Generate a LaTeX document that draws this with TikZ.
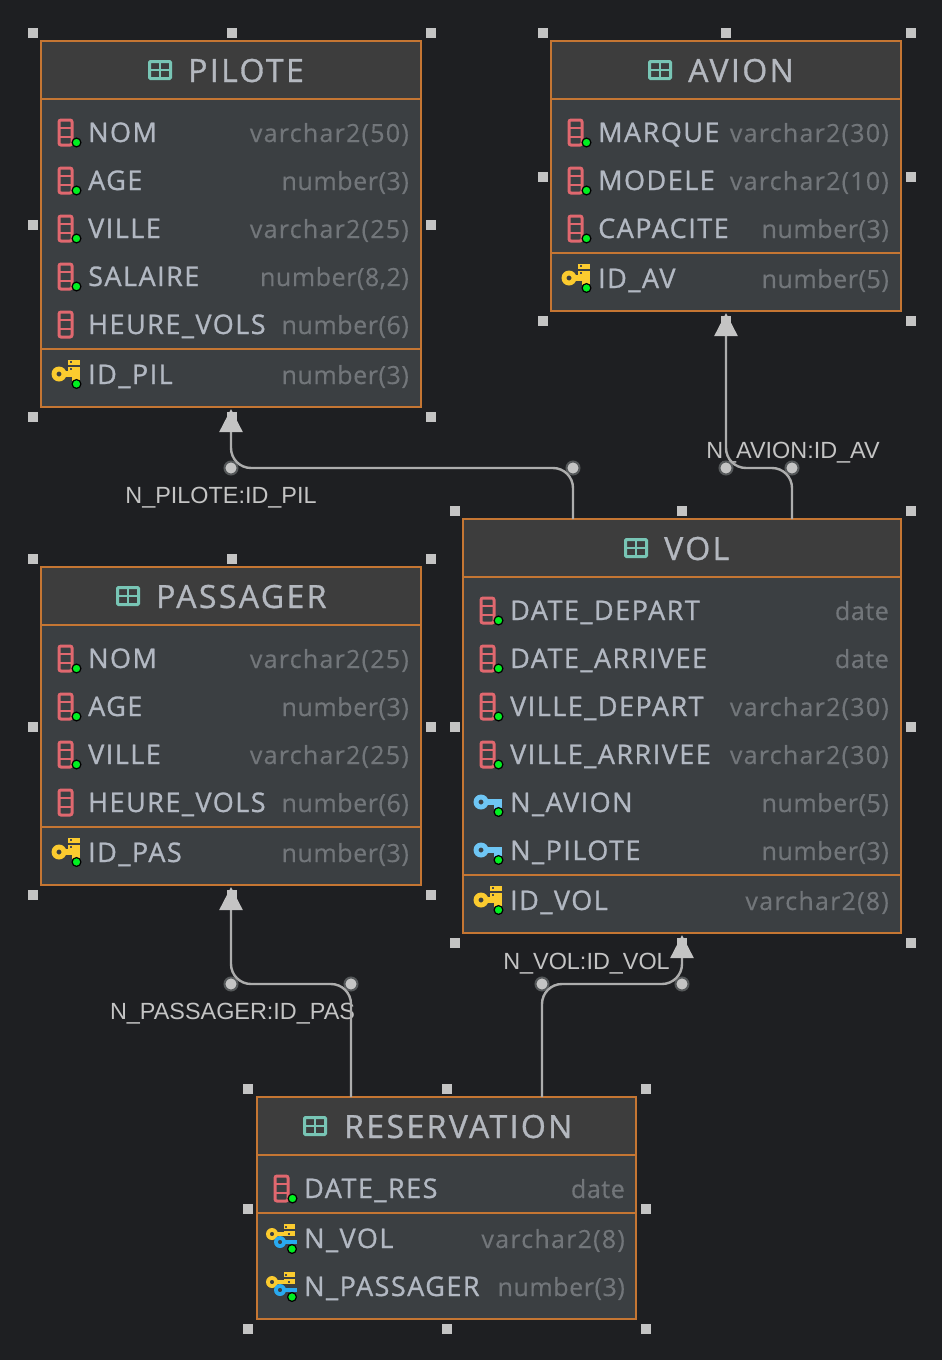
\documentclass[tikz,border=0pt]{standalone}
\usepackage{fontspec}
\setmainfont{Open Sans}
\newfontfamily\rowfont[LetterSpace=5.5,FakeBold=1]{Open Sans}
\newfontfamily\typefont[LetterSpace=5,FakeBold=0.4]{Open Sans}
\newfontfamily\numfont[LetterSpace=2.3,FakeBold=0.4]{Open Sans}
\newfontfamily\titlefont[LetterSpace=7.5,FakeBold=1]{Open Sans}
\newfontfamily\edgefont{Liberation Sans}
\usetikzlibrary{arrows.meta}
\definecolor{bgc}{HTML}{1E1F22}
\definecolor{bodyc}{HTML}{3B3F42}
\definecolor{headc}{HTML}{3D3D3D}
\definecolor{borderc}{HTML}{C57633}
\definecolor{namec}{HTML}{B2B8C2}
\definecolor{typec}{HTML}{72767A}
\definecolor{titlec}{HTML}{B4B8BF}
\definecolor{tealc}{HTML}{78C5B5}
\definecolor{redc}{HTML}{E0686F}
\definecolor{yelc}{HTML}{FBCB2F}
\definecolor{bluelc}{HTML}{6EC6F5}
\definecolor{bluec}{HTML}{29AAF0}
\definecolor{greenc}{HTML}{00F020}
\definecolor{handc}{HTML}{C4C4C4}
\definecolor{linec}{HTML}{ADADAD}
\definecolor{haloc}{HTML}{55585A}
\tikzset{
  x=1pt,y=-1pt,
  tbl/.style={draw=borderc,line width=1.5pt,fill=bodyc,anchor=north west,inner sep=0pt,outer sep=0pt},
  headbox/.style={draw=borderc,line width=1.5pt,fill=headc,anchor=north west,inner sep=0pt,outer sep=0pt},
  divider/.style={draw=borderc,line width=1.5pt},
  handle/.style={fill=handc,minimum size=10pt,inner sep=0pt,outer sep=0pt,rectangle},
  rowname/.style={anchor=base west,inner sep=0pt,text=namec,font=\rowfont\fontsize{27}{30}\selectfont},
  rowtype/.style={anchor=base east,inner sep=0pt,text=typec,font=\typefont\fontsize{25}{30}\selectfont},
  tabletitle/.style={anchor=base west,inner sep=0pt,text=titlec,font=\titlefont\fontsize{32}{36}\selectfont},
  edgelabel/.style={inner sep=0pt,text=handc,font=\edgefont\fontsize{23.4}{26}\selectfont},
  edgeline/.style={draw=linec,line width=2.4pt,rounded corners=20pt,
    -{Triangle[length=23pt,width=23pt,color=handc]}},
  enddot/.style={circle,fill=handc,draw=haloc,line width=2pt,minimum size=13pt,inner sep=0pt},
}
\newcommand{\numty}[1]{{\numfont number(#1)}}
\newcommand{\datety}{{\numfont date}}
\newcommand{\gdot}[2]{\fill[greenc,draw=black,line width=1.2pt] (#1,#2) circle (4.4pt);}
\newcommand{\icolnd}{%
  \draw[redc,line width=3pt,rounded corners=2pt] (-30,-13) rectangle (-17,12);
  \draw[redc,line width=2.8pt] (-30,-5)--(-17,-5) (-30,4)--(-17,4);}
\newcommand{\icol}{\icolnd\gdot{-12.5}{9.5}}
\newcommand{\ikeyshape}[1]{%
  \fill[#1,even odd rule] (-30,-1) circle (7.5pt) (-30,-1) circle (2.6pt);
  \fill[#1] (-25,-4.5) rectangle (-9,1.5);
  \fill[#1] (-17,0) rectangle (-9,6);}
\newcommand{\ipk}{%
  \ikeyshape{yelc}
  \fill[yelc] (-21,-15) rectangle (-9,-10);
  \fill[yelc] (-21,-8) rectangle (-9,-3);
  \fill[black!70] (-19.5,-7) rectangle (-17,-5);
  \fill[black!70] (-19.5,-14) rectangle (-17,-12);
  \gdot{-12.5}{9}}
\newcommand{\ifk}{\ikeyshape{bluelc}\gdot{-12.5}{9}}
\newcommand{\icombo}{%
  \fill[yelc,even odd rule] (-33,-5) circle (6pt) (-33,-5) circle (2.2pt);
  \fill[yelc] (-29,-7) rectangle (-21,-3);
  \fill[yelc] (-21.5,-15) rectangle (-10,-10);
  \fill[yelc] (-21.5,-8) rectangle (-10,-3);
  \fill[black!70] (-20,-13.5) rectangle (-18,-11.5);
  \fill[black!70] (-17,-6.5) rectangle (-15,-4.5);
  \fill[bluec,even odd rule] (-25,3) circle (6pt) (-25,3) circle (2.2pt);
  \fill[bluec] (-21,1) rectangle (-8,5);
  \gdot{-13}{10}}
\newcommand{\itbl}{%
  \draw[tealc,line width=3pt,rounded corners=1pt] (-10.5,-8.5) rectangle (10.5,8.5);
  \draw[tealc,line width=2.8pt] (-11,0)--(11,0) (0,-9)--(0,9);}
% id, icon, xname, xright, ycentre, name, type
\newcommand{\dbrow}[7]{%
  \begin{scope}[shift={(#3,#5)}]#2\end{scope}
  \node[rowname] (#1n) at (#3-1,#5+9) {#6};
  \node[rowtype] (#1t) at (#4,#5+9) {#7};}
\newcommand{\dbhandles}[7]{%
  \node[handle] (#1a) at (#2,#5) {};\node[handle] (#1b) at (#3,#5) {};\node[handle] (#1c) at (#4,#5) {};
  \node[handle] (#1d) at (#2,#6) {};\node[handle] (#1e) at (#4,#6) {};
  \node[handle] (#1f) at (#2,#7) {};\node[handle] (#1g) at (#3,#7) {};\node[handle] (#1h) at (#4,#7) {};}
\newcommand{\dbtable}[9]{% id,x,y,w,h,headh,iconx,titlex,title
  \node[tbl,minimum width=#4,minimum height=#5] (#1) at (#2,#3) {};
  \node[headbox,minimum width=#4,minimum height=#6] (#1head) at (#2,#3) {};
  \begin{scope}[shift={(#7,#3+29)}]\itbl\end{scope}
  \node[tabletitle] (#1title) at (#8-1,#3+41) {#9};}
\begin{document}
\begin{tikzpicture}
\useasboundingbox (0,0) rectangle (942,1360);
\fill[bgc] (0,0) rectangle (942,1360);

% edge labels (lines run over them)
\node[edgelabel,anchor=center] (lp) at (221,498) {N\_PILOTE:ID\_PIL};
\node[edgelabel,anchor=center] (la) at (793,453) {N\_AVION:ID\_AV};
\node[edgelabel,anchor=center] (lr) at (232.5,1014) {N\_PASSAGER:ID\_PAS};
\node[edgelabel,anchor=center] (lv) at (586.5,964) {N\_VOL:ID\_VOL};

% PILOTE
\dbhandles{ph}{33}{232}{431}{33}{225}{417}
\dbtable{pilote}{41}{41}{380}{366}{58}{160}{189}{PILOTE}
\dbrow{p1}{\icol}{89}{409}{133}{NOM}{varchar2(50)}
\dbrow{p2}{\icol}{89}{409}{181}{AGE}{\numty{3}}
\dbrow{p3}{\icol}{89}{409}{229}{VILLE}{varchar2(25)}
\dbrow{p4}{\icol}{89}{409}{277}{SALAIRE}{\numty{8,2}}
\dbrow{p5}{\icolnd}{89}{409}{325}{HEURE\_VOLS}{\numty{6}}
\draw[divider] (41,349)--(421,349);
\dbrow{p6}{\ipk}{89}{409}{375}{ID\_PIL}{\numty{3}}

% AVION
\dbhandles{ah}{543}{726}{911}{33}{177}{321}
\dbtable{avion}{551}{41}{350}{270}{58}{660}{689}{AVION}
\dbrow{a1}{\icol}{599}{889}{133}{MARQUE}{varchar2(30)}
\dbrow{a2}{\icol}{599}{889}{181}{MODELE}{varchar2(10)}
\dbrow{a3}{\icol}{599}{889}{229}{CAPACITE}{\numty{3}}
\draw[divider] (551,253)--(901,253);
\dbrow{a4}{\ipk}{599}{889}{279}{ID\_AV}{\numty{5}}

% PASSAGER
\dbhandles{sh}{33}{232}{431}{559}{727}{895}
\dbtable{passager}{41}{567}{380}{318}{58}{128}{157}{PASSAGER}
\dbrow{s1}{\icol}{89}{409}{659}{NOM}{varchar2(25)}
\dbrow{s2}{\icol}{89}{409}{707}{AGE}{\numty{3}}
\dbrow{s3}{\icol}{89}{409}{755}{VILLE}{varchar2(25)}
\dbrow{s4}{\icolnd}{89}{409}{803}{HEURE\_VOLS}{\numty{6}}
\draw[divider] (41,827)--(421,827);
\dbrow{s5}{\ipk}{89}{409}{853}{ID\_PAS}{\numty{3}}

% VOL
\dbhandles{vh}{455}{682}{911}{511}{727}{943}
\dbtable{vol}{463}{519}{438}{414}{58}{636}{665}{VOL}
\dbrow{v1}{\icol}{511}{889}{611}{DATE\_DEPART}{\datety}
\dbrow{v2}{\icol}{511}{889}{659}{DATE\_ARRIVEE}{\datety}
\dbrow{v3}{\icol}{511}{889}{707}{VILLE\_DEPART}{varchar2(30)}
\dbrow{v4}{\icol}{511}{889}{755}{VILLE\_ARRIVEE}{varchar2(30)}
\dbrow{v5}{\ifk}{511}{889}{803}{N\_AVION}{\numty{5}}
\dbrow{v6}{\ifk}{511}{889}{851}{N\_PILOTE}{\numty{3}}
\draw[divider] (463,875)--(901,875);
\dbrow{v7}{\ipk}{511}{889}{901}{ID\_VOL}{varchar2(8)}

% RESERVATION
\dbhandles{rh}{248}{447}{646}{1089}{1209}{1329}
\dbtable{reservation}{257}{1097}{379}{222}{58}{315}{345}{RESERVATION}
\dbrow{r1}{\icol}{305}{625}{1189}{DATE\_RES}{\datety}
\draw[divider] (257,1213)--(636,1213);
\dbrow{r2}{\icombo}{305}{625}{1239}{N\_VOL}{varchar2(8)}
\dbrow{r3}{\icombo}{305}{625}{1287}{N\_PASSAGER}{\numty{3}}

% connector end points
\coordinate (e1s) at (573,519); \coordinate (e1t) at (231,409);
\coordinate (e2s) at (792,519); \coordinate (e2t) at (726,313);
\coordinate (e3s) at (351,1097); \coordinate (e3t) at (231,887);
\coordinate (e4s) at (542,1097); \coordinate (e4t) at (682,935);
\node[enddot] (d1a) at (573,468) {}; \node[enddot] (d1b) at (231,468) {};
\node[enddot] (d2a) at (792,468) {}; \node[enddot] (d2b) at (726,468) {};
\node[enddot] (d3a) at (351,984) {}; \node[enddot] (d3b) at (231,984) {};
\node[enddot] (d4a) at (542,984) {}; \node[enddot] (d4b) at (682,984) {};

\draw[edgeline] (e1s) -- (d1a.center) -- (d1b.center) -- (e1t);
\draw[edgeline] (e2s) -- (d2a.center) -- (d2b.center) -- (e2t);
\draw[edgeline] (e3s) -- (d3a.center) -- (d3b.center) -- (e3t);
\draw[edgeline] (e4s) -- (d4a.center) -- (d4b.center) -- (e4t);
\end{tikzpicture}
\end{document}
